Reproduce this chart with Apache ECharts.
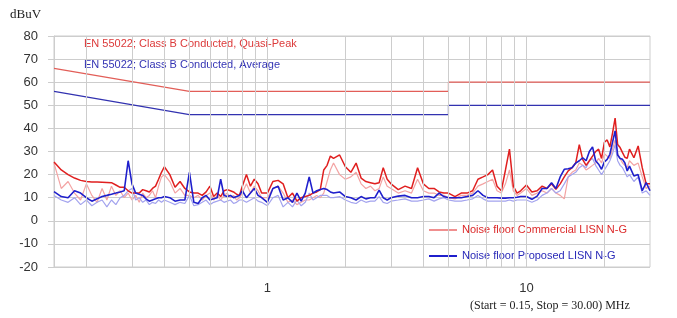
<!DOCTYPE html>
<html>

<head>
    <meta charset="UTF-8">
    <title>LISN noise floor</title>
    <script src="https://cdn.jsdelivr.net/npm/echarts@6.0.0/dist/echarts.min.js"></script>
</head>

<body style="margin:0">
    <div id="main" style="width: 677px; height: 318px;"></div>
    <script>
        // frequencies (MHz), shared by the four noise traces
        const freqs = [
            0.15, 0.16, 0.17, 0.18, 0.19, 0.20, 0.21, 0.22, 0.23, 0.24, 0.25, 0.26, 0.27, 0.28, 0.29, 0.30,
            0.31, 0.32, 0.33, 0.34, 0.35, 0.36, 0.37, 0.38, 0.39, 0.40,
            0.42, 0.44, 0.46, 0.48, 0.50, 0.52, 0.54, 0.56, 0.58, 0.60, 0.62, 0.64, 0.66, 0.68, 0.70,
            0.72, 0.74, 0.76, 0.78, 0.80,
            0.83, 0.86, 0.89, 0.92, 0.95,
            1.0, 1.05, 1.1, 1.15, 1.2, 1.25, 1.3, 1.35, 1.4, 1.45, 1.5, 1.55, 1.6, 1.65, 1.7, 1.75, 1.8,
            1.9, 2.0, 2.1, 2.2, 2.3, 2.4, 2.5, 2.6, 2.7, 2.8, 2.9, 3.0,
            3.2, 3.4, 3.6, 3.8, 4.0, 4.2, 4.4, 4.6, 4.8, 5.0,
            5.3, 5.6, 5.9, 6.2, 6.5, 6.8, 7.1, 7.4, 7.7, 8.0, 8.3, 8.6, 8.9, 9.2, 9.5,
            10, 10.5, 11, 11.5, 12, 12.5, 13, 13.5, 14, 14.5, 15, 15.5, 16, 16.5, 17, 17.5,
            18, 18.5, 19, 19.5, 20, 20.5, 21, 21.5, 22, 22.5, 23, 23.5, 24, 24.5, 25,
            26, 27, 28, 29, 30
        ];

        // Noise floor Commercial LISN N-G (dark red)
        const commercial = [
            25.5, 22, 20, 18.5, 17.5, 17, 16.8, 16.8, 16.7, 16.6, 16.5, 15.5, 14.5, 14.5, 13, 12,
            12, 12, 13.5, 13, 12.5, 14, 15, 18, 21, 23.4,
            20, 14.5, 17, 14, 12.5, 12, 12, 11, 12.5, 15, 10.5, 12, 10.5, 13, 13.5,
            13, 12.5, 11.5, 11, 15,
            20, 15, 18, 16, 12,
            12, 17, 17.5, 16, 10, 12, 8.5, 10, 10.5, 11, 12, 12.5, 13.5, 22, 24, 28, 27,
            28.5, 23.4, 21, 25, 18.5, 17, 16.5, 16, 16.5, 23, 18, 16,
            13.5, 15, 14, 23, 16, 14, 14, 12.5, 12, 12,
            10.5, 12, 12, 13, 18, 19, 20, 22, 15, 13, 22, 31, 15, 12, 13,
            15.5, 12.5, 13, 15, 14, 16, 13.6, 16, 19, 21.6, 23, 25, 33, 26.5, 24, 26,
            28, 30, 31, 27, 34, 35, 32, 38, 44.5, 33, 31.7, 29.5, 27.5, 27, 31,
            27.3, 32.4, 23, 16, 16
        ];
        // second (faint) commercial trace
        const commercialFaint = [
            25, 14, 17, 12, 9, 16, 11, 8, 14, 9, 15, 11, 13, 10, 12, 9,
            11, 8, 12, 10, 11, 13, 10, 15, 19, 20,
            17, 12, 14, 11, 11, 10, 11, 9, 11, 12, 9, 11, 9, 11, 12,
            10, 11, 9, 10, 12,
            16, 12, 15, 13, 10,
            10, 14, 15, 12, 8, 9, 7, 8, 9, 9, 10, 11, 10, 12, 17, 22, 25,
            20, 18, 19, 21, 16, 14, 15, 13, 14, 19, 15, 14,
            12, 13, 12, 18, 13, 12, 12, 11, 11, 10,
            9.5, 11, 11, 12, 15, 16, 17, 18, 13, 12, 16, 22, 13, 11, 12,
            14, 11, 12, 13, 12, 14, 12, 11, 9.5, 19, 21, 22, 25, 24, 22, 23,
            24, 25, 27, 25, 29, 28, 27, 31, 35, 29, 27, 25, 24, 23, 26,
            24, 25, 19, 14, 15
        ];
        // Noise floor Proposed LISN N-G (dark blue)
        const proposed = [
            12.6, 10.5, 10, 13, 12, 10, 8.5, 9.5, 10.5, 11, 11.5, 12, 12.5, 13, 26, 16,
            12, 11.5, 11, 9.5, 8.5, 9, 9.5, 10, 10, 10.5,
            10, 8.5, 9, 9, 21, 8, 7.5, 10, 11, 9, 9.5, 10, 18, 11, 10.5,
            11, 10, 10.5, 11, 13,
            10, 12, 14, 11, 10,
            8, 14, 15, 9, 10, 8, 12, 8.5, 12, 19, 12, 13, 13.5, 14, 13.5, 12.5, 12,
            12.5, 10.5, 10, 9, 10.5, 9.5, 10, 10, 13.3, 10, 9, 10,
            10.7, 11, 10, 10, 10.5, 10.5, 10, 12, 10.5, 10,
            10, 10, 10.5, 11, 13, 11, 10, 10, 10, 9.8, 9.8, 10, 10, 10.2, 10.5,
            10.5, 9.3, 10.7, 14, 14, 16.5, 14, 19, 22.3, 22.5, 23, 25, 26, 27.3, 26, 30,
            32, 26, 24.5, 22.3, 25.5, 26.6, 28.8, 34, 38.9, 28.5, 27, 26.6, 25, 21.6, 23.7,
            19.4, 20, 13, 16.5, 13
        ];
        // second (faint) proposed trace
        const proposedFaint = [
            11, 9, 8, 10, 7, 9, 6.5, 8, 9, 6, 9, 7, 10, 11, 13, 14,
            9, 10, 8, 9, 7, 8, 7.5, 9, 8, 9,
            8, 7, 8, 7.5, 11, 6.5, 7, 8, 9, 7, 8, 8.5, 9, 8, 8.5,
            9, 7.5, 8, 9, 9,
            8, 9, 10, 8.5, 8,
            6.5, 10, 11, 6, 8, 6, 9, 6.5, 8, 12, 9, 10, 11, 11, 11, 10, 10,
            10.5, 9, 8, 7.5, 9, 8, 8.5, 8.5, 10.5, 8, 7.5, 8.5,
            9, 9.5, 8.5, 8.5, 9, 9.5, 8.5, 9.5, 10, 9,
            8.5, 8.5, 9, 9.5, 11, 9.5, 8.5, 8.5, 8.5, 8.5, 8.5, 9, 8.5, 9, 9,
            9, 8, 9, 11, 12, 14, 12, 13, 16, 19, 20, 21, 23, 24, 23, 26,
            27, 24, 22, 20, 22, 24, 26, 29, 33, 26, 24, 23, 21, 19, 20,
            17, 19, 12, 13, 11
        ];

        // EN 55022 class B limits, [MHz, dBuV]
        const quasiPeakLimit = [[0.15, 66], [0.5, 56], [5, 56], [5, 60], [30, 60]];
        const averageLimit = [[0.15, 56], [0.5, 46], [5, 46], [5, 50], [30, 50]];

        // vertical grid positions on the log axis
        const xGrid = [0.2, 0.3, 0.4, 0.5, 0.6, 0.7, 0.8, 0.9, 1, 2, 3, 4, 5, 6, 7, 8, 9, 10, 20];

        const pair = arr => freqs.map((f, i) => [f, arr[i]]);

        const gridColor = '#cdcdcd';
        const font = 'Liberation Sans';
        // plain line legend marks (the M points fix the 28x14 box)
        const thinLine = 'path://M0,0M28,14M0,6.5L28,6.5L28,7.5L0,7.5Z';
        const thickLine = 'path://M0,0M28,14M0,6L28,6L28,8L0,8Z';

        const option = {
            animation: false,
            grid: { left: 54, right: 27, top: 36, bottom: 51, show: true, borderColor: gridColor, borderWidth: 1 },
            legend: [
                {
                    orient: 'vertical', left: 79, top: 37, padding: 0, itemGap: 8, itemWidth: 0, itemHeight: 14,
                    icon: 'none', selectedMode: false,
                    textStyle: { fontFamily: font, fontSize: 11 },
                    data: [
                        { name: 'EN 55022; Class B Conducted, Quasi-Peak', textStyle: { color: '#dc3a3a' } },
                        { name: 'EN 55022; Class B Conducted, Average', textStyle: { color: '#3434b4' } }
                    ]
                },
                {
                    orient: 'vertical', left: 429, top: 223, padding: 0, itemGap: 12, itemWidth: 28, itemHeight: 14,
                    selectedMode: false,
                    textStyle: { fontFamily: font, fontSize: 11 },
                    data: [
                        { name: 'Noise floor Commercial LISN N-G', icon: thinLine, textStyle: { color: '#dc2a2a' } },
                        { name: 'Noise floor Proposed LISN N-G', icon: thickLine, textStyle: { color: '#2a2ab8' } }
                    ]
                }
            ],
            graphic: [
                { type: 'text', left: 10, top: 8, style: { text: 'dBuV', font: '13px "Liberation Serif"', fill: '#222' } },
                { type: 'text', left: 470, top: 300, style: { text: '(Start = 0.15, Stop = 30.00) MHz', font: '12px "Liberation Serif"', fill: '#222' } }
            ],
            xAxis: {
                type: 'log', logBase: 10, min: 0.15, max: 30,
                axisLine: { show: true, lineStyle: { color: gridColor } },
                axisTick: { show: true, length: 10, lineStyle: { color: gridColor } },
                splitLine: { show: false },
                axisLabel: {
                    fontFamily: font, fontSize: 13, color: '#333', margin: 15,
                    showMinLabel: false, showMaxLabel: false
                }
            },
            yAxis: {
                type: 'value', min: -20, max: 80, interval: 10,
                axisLine: { show: true, lineStyle: { color: gridColor } },
                axisTick: { show: true, length: 6, lineStyle: { color: gridColor } },
                splitLine: { show: true, lineStyle: { color: gridColor } },
                axisLabel: { fontFamily: font, fontSize: 13, color: '#333', margin: 16 }
            },
            series: [
                {
                    name: 'EN 55022; Class B Conducted, Quasi-Peak',
                    type: 'line', data: quasiPeakLimit, symbol: 'none',
                    lineStyle: { color: '#e25e58', width: 1.2 }, itemStyle: { color: '#e25e58' },
                    markLine: {
                        silent: true, symbol: 'none', label: { show: false },
                        lineStyle: { color: gridColor, type: 'solid', width: 1 },
                        data: xGrid.map(v => ({ xAxis: v }))
                    }
                },
                {
                    name: 'EN 55022; Class B Conducted, Average',
                    type: 'line', data: averageLimit, symbol: 'none',
                    lineStyle: { color: '#3232b0', width: 1.2 }, itemStyle: { color: '#3232b0' }
                },
                {
                    name: 'commercial faint', type: 'line', data: pair(commercialFaint), symbol: 'none',
                    lineStyle: { color: '#f3a3a3', width: 1.2 }
                },
                {
                    name: 'proposed faint', type: 'line', data: pair(proposedFaint), symbol: 'none',
                    lineStyle: { color: '#a3a3ee', width: 1.2 }
                },
                {
                    name: 'Noise floor Commercial LISN N-G', type: 'line', data: pair(commercial), symbol: 'none',
                    lineStyle: { color: '#e01f1f', width: 1.5 }, itemStyle: { color: '#e01f1f' }
                },
                {
                    name: 'Noise floor Proposed LISN N-G', type: 'line', data: pair(proposed), symbol: 'none',
                    lineStyle: { color: '#1f1fcc', width: 1.6 }, itemStyle: { color: '#1f1fcc' }
                }
            ]
        };

        const myChart = echarts.init(document.getElementById('main'));
        myChart.setOption(option);
    </script>
</body>

</html>
